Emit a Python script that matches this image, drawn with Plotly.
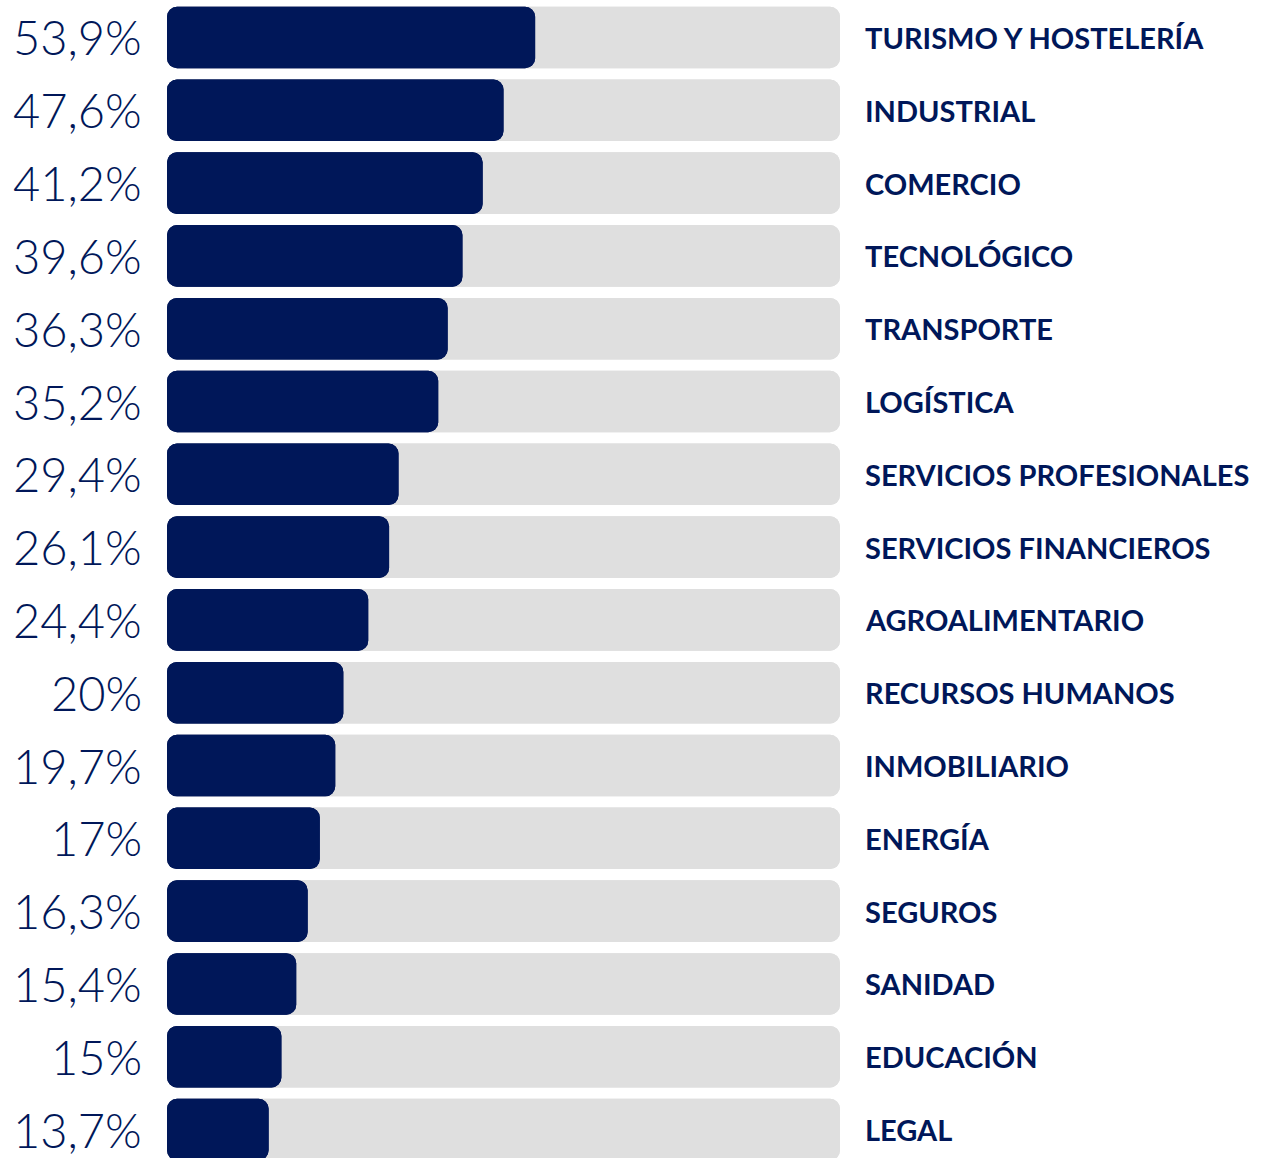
import plotly.graph_objects as go

# sectors, top to bottom
sectors = ['TURISMO Y HOSTELERÍA', 'INDUSTRIAL', 'COMERCIO', 'TECNOLÓGICO',
           'TRANSPORTE', 'LOGÍSTICA', 'SERVICIOS PROFESIONALES',
           'SERVICIOS FINANCIEROS', 'AGROALIMENTARIO', 'RECURSOS HUMANOS',
           'INMOBILIARIO', 'ENERGÍA', 'SEGUROS', 'SANIDAD', 'EDUCACIÓN', 'LEGAL']
# printed percentages
pct_labels = ['53,9%', '47,6%', '41,2%', '39,6%', '36,3%', '35,2%', '29,4%',
              '26,1%', '24,4%', '20%', '19,7%', '17%', '16,3%', '15,4%',
              '15%', '13,7%']
# drawn bar fill, % of the grey track
fill = [54.7, 50.0, 46.9, 43.9, 41.7, 40.3, 34.4, 33.0, 29.9, 26.2, 25.0,
        22.7, 20.9, 19.2, 17.0, 15.1]
track = [100] * len(sectors)

NAVY = '#001759'
GREY = '#dfdfdf'
rows = list(range(len(sectors)))
bw = 0.846

fig = go.Figure()

# grey track, drawn twice so both ends get rounded corners
fig.add_trace(go.Bar(y=rows, x=track, base=0, orientation='h', width=bw,
                     marker=dict(color=GREY, cornerradius=10, line=dict(width=0))))
fig.add_trace(go.Bar(y=rows, x=[-t for t in track], base=track, orientation='h', width=bw,
                     marker=dict(color=GREY, cornerradius=10, line=dict(width=0))))

# navy fill, same trick
fig.add_trace(go.Bar(y=rows, x=fill, base=0, orientation='h', width=bw,
                     marker=dict(color=NAVY, cornerradius=10, line=dict(width=0))))
fig.add_trace(go.Bar(y=rows, x=[-f for f in fill], base=fill, orientation='h', width=bw,
                     marker=dict(color=NAVY, cornerradius=10, line=dict(width=0))))

# labels on both sides
for i, (lab, sec) in enumerate(zip(pct_labels, sectors)):
    fig.add_annotation(x=144 / 1266, xref='paper', y=i, yref='y', text=lab,
                       xanchor='right', yanchor='middle', showarrow=False,
                       font=dict(family='Lato', weight=300, size=47, color=NAVY))
    fig.add_annotation(x=863 / 1266, xref='paper', y=i, yref='y', text=sec,
                       xanchor='left', yanchor='middle', showarrow=False,
                       font=dict(family='Lato', weight=700, size=29, color=NAVY))

fig.update_layout(
    width=1266, height=1158,
    margin=dict(l=0, r=0, t=0, b=0),
    barmode='overlay',
    showlegend=False,
    plot_bgcolor='white',
    paper_bgcolor='white',
    xaxis=dict(domain=[167 / 1266, 840 / 1266], range=[0, 100],
               visible=False, fixedrange=True),
    yaxis=dict(range=[15.391, -0.515], visible=False, fixedrange=True),
)

# drop the default page margin so the chart sits at the window corner
fig.write_html("out.html", config={'displayModeBar': False},
               post_script="document.body.style.margin='0';document.body.style.overflow='hidden';")
